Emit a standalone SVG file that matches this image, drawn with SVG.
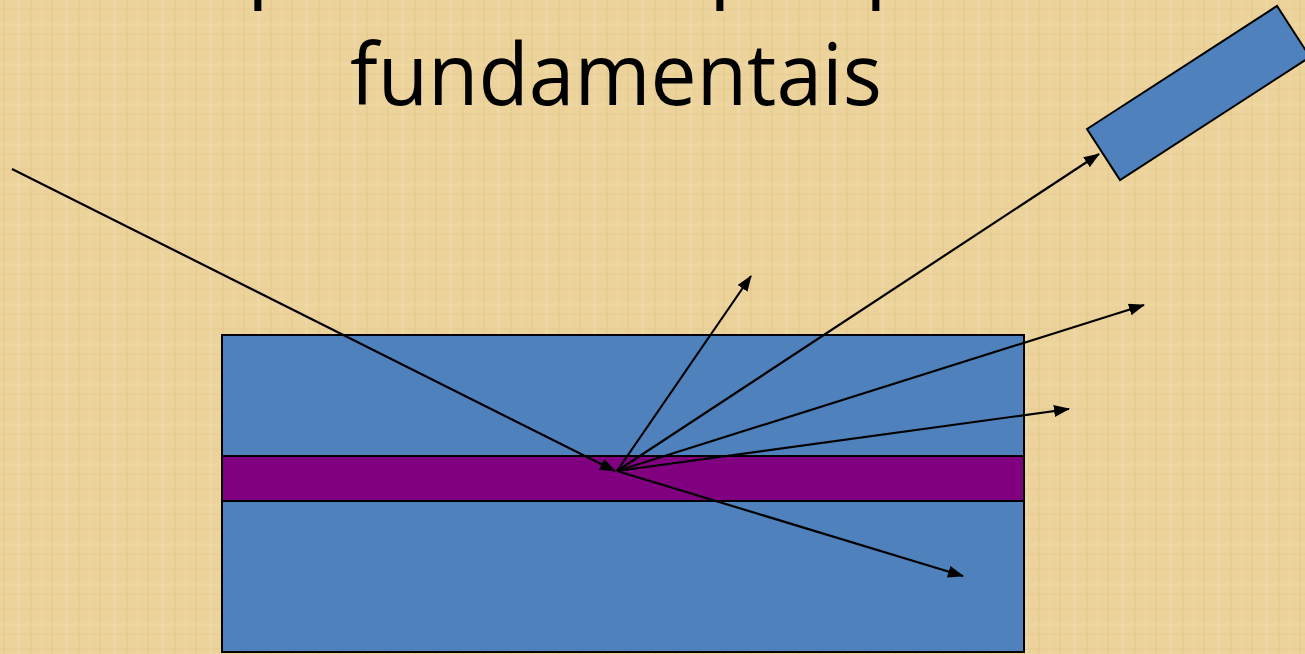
<svg xmlns="http://www.w3.org/2000/svg" width="1305" height="654" viewBox="0 0 1305 654">
  <style>
    .title { font-family: "Open Sans", "Liberation Sans", sans-serif; fill: #000; }
    .ray { stroke: #000; stroke-width: 2.2; fill: none; marker-end: url(#arrow); }
    .edge { stroke: #000; stroke-width: 2; }
  </style>
  <defs>
    <marker id="arrow" markerUnits="userSpaceOnUse" markerWidth="17" markerHeight="13" refX="15" refY="6" orient="auto">
      <path d="M0,0 L16,6 L0,12 z" fill="#000"/>
    </marker>
    <pattern id="paper" width="48" height="40" patternUnits="userSpaceOnUse">
      <rect width="48" height="40" fill="#ECD39B"/>
      <rect x="3" width="2" height="40" fill="#E3C584" opacity="0.35"/>
      <rect x="17" width="3" height="40" fill="#F3DFB0" opacity="0.35"/>
      <rect x="30" width="2" height="40" fill="#E0C07E" opacity="0.3"/>
      <rect x="41" width="2" height="40" fill="#F2DCAA" opacity="0.3"/>
      <rect y="8" width="48" height="2" fill="#E4C688" opacity="0.3"/>
      <rect y="23" width="48" height="3" fill="#F3DFB2" opacity="0.3"/>
      <rect y="34" width="48" height="1" fill="#DFC07F" opacity="0.3"/>
    </pattern>
  </defs>

  <rect width="1305" height="654" fill="url(#paper)"/>

  <g id="title">
    <text class="title" font-size="86" y="-10"><tspan x="247">p</tspan><tspan x="709">p</tspan><tspan x="865">p</tspan></text>
    <text class="title" font-size="86" x="350" y="105" textLength="532" lengthAdjust="spacingAndGlyphs">fundamentais</text>
  </g>

  <g id="sample">
    <rect x="222" y="335" width="802" height="317" fill="#4F81BD" class="edge"/>
  </g>
  <g id="layer">
    <rect x="222" y="456" width="802" height="45" fill="#800080" class="edge"/>
  </g>
  <g id="detector">
    <polygon points="1087,129 1277,6 1310,57 1120,180" fill="#4F81BD" class="edge"/>
  </g>

  <g id="connectors">
    <line class="ray" x1="12" y1="169" x2="615" y2="471"/>
    <line class="ray" x1="617" y1="471" x2="751" y2="276"/>
    <line class="ray" x1="617" y1="471" x2="1099" y2="154"/>
    <line class="ray" x1="617" y1="471" x2="1144" y2="305"/>
    <line class="ray" x1="617" y1="471" x2="1069" y2="409"/>
    <line class="ray" x1="617" y1="471" x2="963" y2="576"/>
  </g>
</svg>
